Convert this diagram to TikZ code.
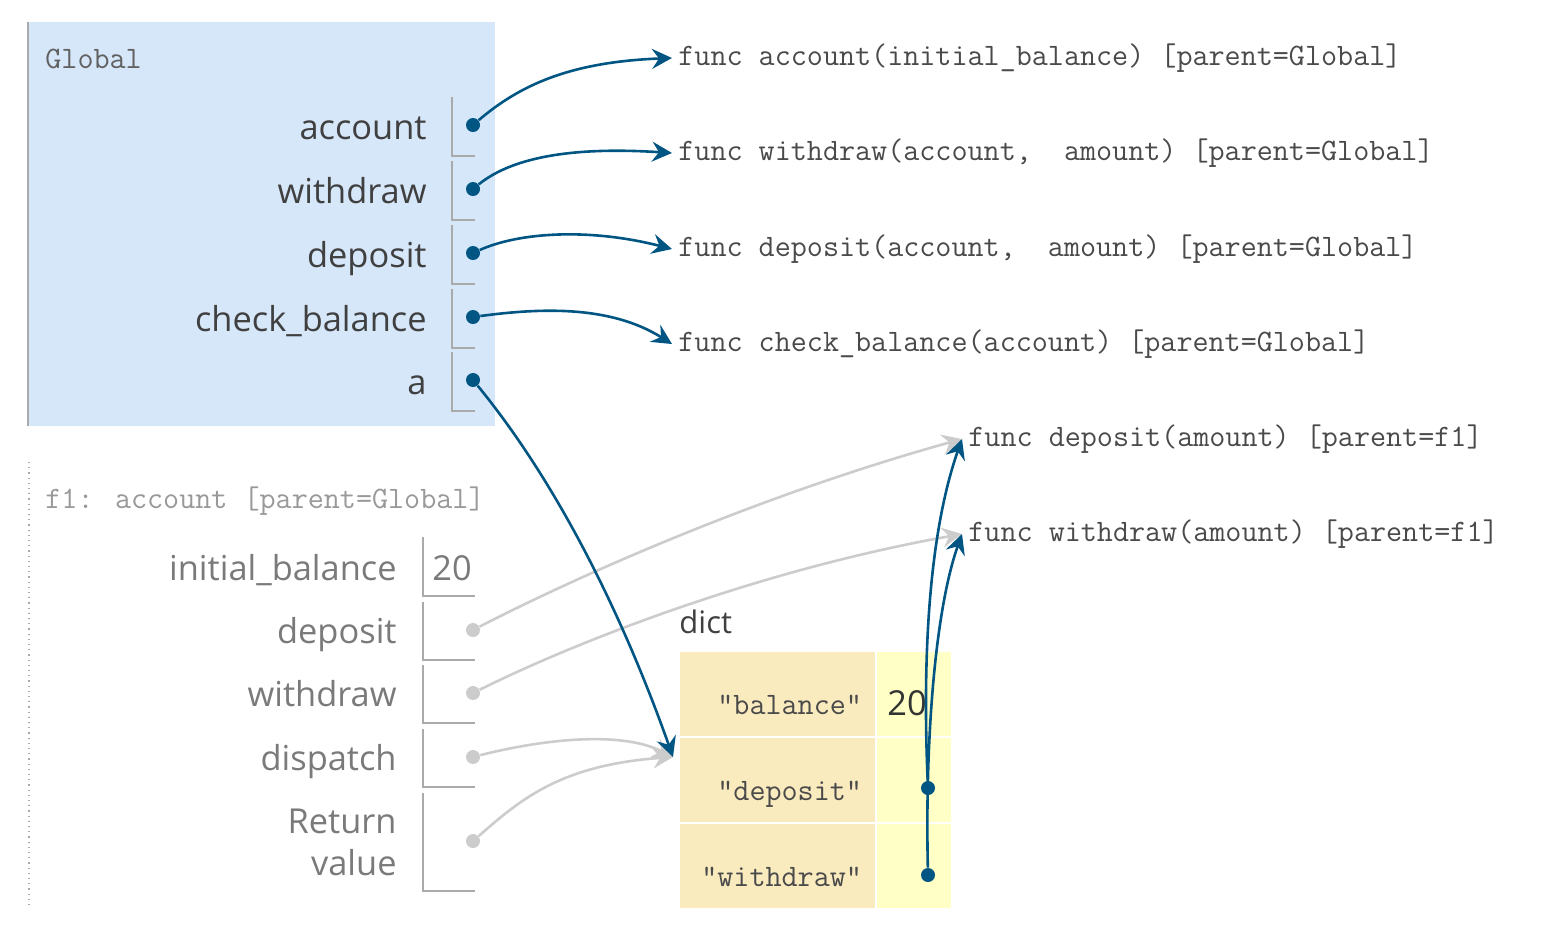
\documentclass[tikz,border=0pt]{standalone}
\usepackage{fontspec}
\newfontfamily\labelfont{Open Sans}
\newcommand\codefont{\ttfamily}
\usetikzlibrary{positioning, arrows.meta, calc}

\definecolor{linkblue}{HTML}{005583}
\definecolor{linkgray}{HTML}{CCCCCC}
\definecolor{globalblue}{HTML}{D6E7FA}
\definecolor{keytan}{HTML}{FAEBBF}
\definecolor{valyellow}{HTML}{FFFFC6}
\definecolor{boxgray}{HTML}{AAAAAA}
\definecolor{darktext}{HTML}{404040}
\definecolor{codetext}{HTML}{4A4A4A}
\definecolor{fadetext}{HTML}{7A7A7A}

\begin{document}
\begin{tikzpicture}[
  x=0.5pt, y=-0.5pt,
  varname/.style={font=\labelfont\fontsize{17.2}{20}\selectfont, text=#1, anchor=base east, inner sep=0},
  varname/.default=darktext,
  codeline/.style={font=\codefont\fontsize{15.6}{18}\selectfont, text=#1, inner xsep=3pt, inner ysep=0},
  codeline/.default=codetext,
  pointer/.style={circle, fill=#1, minimum size=7pt, inner sep=0},
  valbox/.style={boxgray, line width=0.75pt},
  keycell/.style={fill=keytan, minimum width=97.5pt, minimum height=42pt, inner sep=0},
  valcell/.style={fill=valyellow, minimum width=37pt, minimum height=42pt, inner sep=0},
  link/.style={-{Stealth[length=10pt, width=10pt, inset=3.5pt]}, line width=1.3pt, linkblue},
  fadelink/.style={link, linkgray},
  ]
  \useasboundingbox (0,0) rectangle (1542,933);

  % Global frame
  \fill[globalblue] (27,22) rectangle (495,426);
  \draw[boxgray, line width=1pt] (28,22) -- (28,426);
  \node[codeline=black!62, anchor=base west, inner xsep=0] (glob) at (45,68) {Global};

  \foreach \name/\key/\y in {account/account/125, withdraw/withdraw/189, deposit/deposit/253, check\_balance/check/317, a/a/380} {
    \node[varname] (gl-\key) at (427,\y+14) {\name};
    \draw[valbox] (452,\y-28) -- (452,\y+31) -- (475,\y+31);
    \node[pointer=linkblue] (gp-\key) at (473,\y) {};
  }

  % function objects
  \foreach \key/\txt/\x/\y in {
      account/{func account(initial\_balance) [parent=Global]}/672/58,
      withdraw/{func withdraw(account,~ amount) [parent=Global]}/672/153,
      deposit/{func deposit(account,~ amount) [parent=Global]}/672/249,
      check/{func check\_balance(account) [parent=Global]}/672/344,
      fdeposit/{func deposit(amount) [parent=f1]}/962/439,
      fwithdraw/{func withdraw(amount) [parent=f1]}/962/534} {
    \node[codeline, anchor=west] (fn-\key) at (\x,\y) {\txt};
  }

  % f1 frame
  \draw[boxgray, dotted, line width=0.6pt] (29,462) -- (29,905);
  \node[codeline=black!40, anchor=base west, inner xsep=0] (f1) at (45,508) {f1: account [parent=Global]};

  \node[varname=fadetext] (fl-init) at (397,580) {initial\_balance};
  \draw[valbox] (423,537) -- (423,596) -- (475,596);
  \node[varname=fadetext, anchor=base west] (fv-init) at (432,580) {20};

  \foreach \name/\key/\y in {deposit/deposit/630, withdraw/withdraw/693, dispatch/dispatch/757} {
    \node[varname=fadetext] (fl-\key) at (397,\y+13) {\name};
    \draw[valbox] (423,\y-28) -- (423,\y+30) -- (475,\y+30);
    \node[pointer=linkgray] (fp-\key) at (473,\y) {};
  }

  \node[varname=fadetext] (fl-return) at (397,833) {Return};
  \node[varname=fadetext] (fl-value) at (397,875) {value};
  \draw[valbox] (423,793) -- (423,891) -- (475,891);
  \node[pointer=linkgray] (fp-return) at (473,841) {};

  % dict object
  \foreach \keytxt/\y [count=\r] in {balance/694, deposit/780, withdraw/866} {
    \node[keycell] (k\r) at (777.5,\y) {};
    \node[valcell] (v\r) at (914,\y) {};
    \node[codeline, anchor=base east, inner xsep=0] (kt\r) at ($(k\r.south east)+(-6.5pt,11pt)$) {”\keytxt”};
  }
  \node[font=\labelfont\fontsize{15.5}{18}\selectfont, text=darktext, anchor=base west, inner sep=0] (dictlbl) at (679,633) {dict};
  \node[font=\labelfont\fontsize{17.2}{20}\selectfont, text=black!80, anchor=base west, inner sep=0] (vt1) at (887,715) {20};
  \node[pointer=linkblue] (dp-deposit) at (928,788) {};
  \node[pointer=linkblue] (dp-withdraw) at (928,875) {};
  \coordinate (dictin) at (673,757);

  % gray pointers from f1
  \draw[fadelink] (fp-deposit) .. controls (580,575) and (760,495) .. (fn-fdeposit.west);
  \draw[fadelink] (fp-withdraw) .. controls (580,640) and (760,570) .. (fn-fwithdraw.west);
  \draw[fadelink] (fp-dispatch) .. controls (540,740) and (620,730) .. (dictin);
  \draw[fadelink] (fp-return) .. controls (520,800) and (560,765) .. (dictin);

  % blue pointers from Global
  \draw[link] (gp-account) .. controls (520,85) and (570,62) .. (fn-account.west);
  \draw[link] (gp-withdraw) .. controls (515,155) and (580,147) .. (fn-withdraw.west);
  \draw[link] (gp-deposit) .. controls (520,232) and (590,228) .. (fn-deposit.west);
  \draw[link] (gp-check) .. controls (540,308) and (610,305) .. (fn-check.west);
  \draw[link] (gp-a) .. controls (563,490) and (627,627) .. (dictin);

  % blue pointers from dict
  \draw[link] (dp-deposit) .. controls (922,650) and (930,530) .. (fn-fdeposit.west);
  \draw[link] (dp-withdraw) .. controls (925,740) and (935,610) .. (fn-fwithdraw.west);

\end{tikzpicture}
\end{document}
